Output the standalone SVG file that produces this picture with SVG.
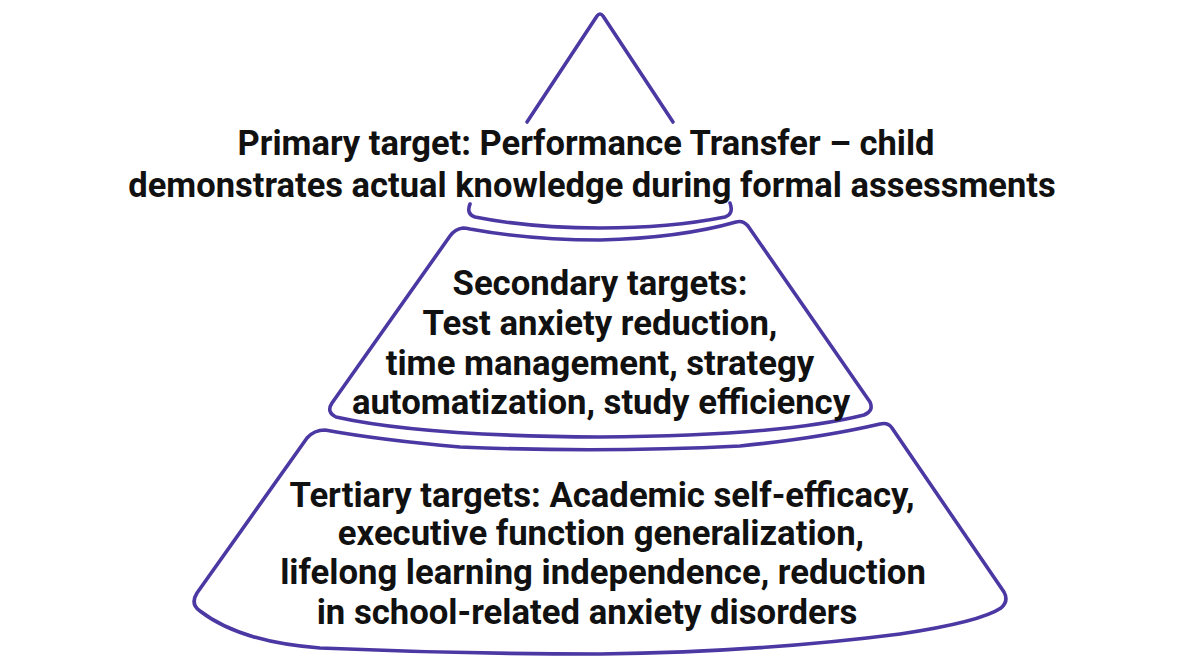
<svg xmlns="http://www.w3.org/2000/svg" width="1200" height="669" viewBox="0 0 1200 669">
<style>
.o{fill:none;stroke:#4b38a3;stroke-width:3.6;stroke-linecap:round;stroke-linejoin:round}
.t{font-family:Roboto,"Liberation Sans",sans-serif;font-weight:700;fill:#111;text-anchor:middle}
.a{font-size:34.5px}
.b{font-size:34.7px}
</style>
<rect width="1200" height="669" fill="#fff"/>
<g id="tier1">
<path class="o" d="M527,122 L597,16 Q600,12 603,16 L673,122"/>
<path class="o" d="M470,204 Q466,214 475,217 Q530,228 600,228 Q670,228 725,217 Q734,214 730,203"/>
<text class="t a" x="586" y="155">Primary target: Performance Transfer – child</text>
<text class="t a" x="592" y="197">demonstrates actual knowledge during formal assessments</text>
</g>
<g id="tier2">
<path class="o" d="M463,228 Q455,229 450,236 L332,403 Q326,412 336,417 Q420,436 600,437 Q780,436 864,415 Q874,411 870,402 L748,226 Q743,220 736,222 Q680,238 600,240 Q530,240 470,229 Q466,228 463,228 Z"/>
<text class="t b" x="600" y="295">Secondary targets:</text>
<text class="t b" x="600" y="335">Test anxiety reduction,</text>
<text class="t b" x="600" y="375">time management, strategy</text>
<text class="t b" x="601" y="414">automatization, study efficiency</text>
</g>
<g id="tier3">
<path class="o" d="M325,430 Q314,430 307,438 L197,593 Q190,604 200,611 Q240,642 320,648 Q460,654 600,654 Q760,652 900,634 Q980,622 1001,608 Q1009,601 1004,592 L892,428 Q888,422 880,424 Q820,438 740,446 Q600,453 460,447 Q380,440 325,430 Z"/>
<text class="t b" x="602" y="507">Tertiary targets: Academic self-efficacy,</text>
<text class="t b" x="601" y="545">executive function generalization,</text>
<text class="t b" x="603" y="584">lifelong learning independence, reduction</text>
<text class="t b" x="587" y="624">in school-related anxiety disorders</text>
</g>
<g id="connectors"></g>
</svg>
